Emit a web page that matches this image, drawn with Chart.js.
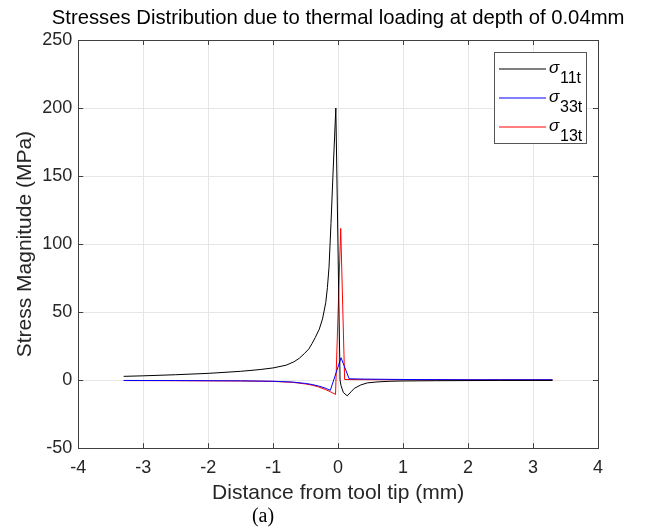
<!DOCTYPE html>
<html>
<head>
<meta charset="utf-8">
<script src="https://cdn.jsdelivr.net/npm/chart.js@4"></script>
<style>
  html, body { margin: 0; padding: 0; background: #fff; }
  #wrap { width: 650px; height: 530px; }
</style>
</head>
<body>
<div id="wrap"><canvas id="stressChart"></canvas></div>
<script>
// values
const s11X = [-3.3, -3, -2.5, -2, -1.5, -1.2, -1, -0.8, -0.68, -0.6, -0.52, -0.45, -0.4, -0.35, -0.29, -0.24, -0.19, -0.165, -0.14, -0.11, -0.08, -0.055, -0.035, 0.03, 0.045, 0.08, 0.14, 0.2, 0.25, 0.35, 0.45, 0.6, 0.8, 1, 1.5, 2, 2.5, 3, 3.3];
const s11Y = [2.8, 3.2, 4, 5, 6.5, 7.8, 9, 11, 13.5, 16, 19.5, 23, 27, 31.5, 37.5, 45, 57, 68, 83, 115, 150, 178, 200, 0, -4, -9, -11.5, -8.5, -6, -3.5, -2, -1.3, -0.8, -0.6, -0.4, -0.3, -0.2, -0.2, -0.2];

const s33X = [-3.3, -2.5, -2, -1.5, -1, -0.7, -0.5, -0.4, -0.3, -0.2, -0.12, 0.045, 0.17, 0.4, 1, 2, 3.3];
const s33Y = [-0.2, -0.3, -0.4, -0.5, -0.8, -1.4, -2.4, -3.2, -4.3, -5.8, -7.5, 16.5, 1, 0.8, 0.5, 0.3, 0.3];

const s13X = [-3.3, -2.5, -2, -1.5, -1, -0.7, -0.5, -0.4, -0.3, -0.2, -0.12, -0.04, 0.04, 0.1, 0.3, 1, 2, 3.3];
const s13Y = [-0.3, -0.4, -0.5, -0.6, -0.9, -1.6, -2.8, -3.7, -5, -6.8, -8.5, -10.5, 111.5, 0.5, 0.4, 0.3, 0.2, 0.2];

const xTicks = [-4, -3, -2, -1, 0, 1, 2, 3, 4];
const yTicks = [-50, 0, 50, 100, 150, 200, 250];

const series = [
    { name: 'σ|11t', xs: s11X, ys: s11Y, color: '#000000' },
    { name: 'σ|33t', xs: s33X, ys: s33Y, color: '#0000ff' },
    { name: 'σ|13t', xs: s13X, ys: s13Y, color: '#ff0000' },
];

const chartTitle = 'Stresses Distribution due to thermal loading at depth of 0.04mm';

const FONT = '"Liberation Sans", Arial, sans-serif';

// title over the axes, box with inward ticks, matlab-ish legend and the "(a)" caption
const matlabBits = {
    id: 'matlabBits',
    afterDraw(chart) {
        const ctx = chart.ctx;
        const a = chart.chartArea;
        const xs = chart.scales.x, ys = chart.scales.y;
        ctx.save();
        ctx.strokeStyle = '#404040';
        ctx.lineWidth = 1;
        ctx.beginPath();
        xTicks.forEach(function (t) {
            const p = Math.round(xs.getPixelForValue(t)) + 0.5;
            ctx.moveTo(p, a.bottom); ctx.lineTo(p, a.bottom - 5);
            ctx.moveTo(p, a.top); ctx.lineTo(p, a.top + 5);
        });
        yTicks.forEach(function (t) {
            const p = Math.round(ys.getPixelForValue(t)) + 0.5;
            ctx.moveTo(a.left, p); ctx.lineTo(a.left + 5, p);
            ctx.moveTo(a.right, p); ctx.lineTo(a.right - 5, p);
        });
        ctx.stroke();
        ctx.strokeRect(Math.round(a.left) + 0.5, Math.round(a.top) + 0.5,
            Math.round(a.right - a.left), Math.round(a.bottom - a.top));

        // title
        ctx.fillStyle = '#000000';
        ctx.font = '20.3px ' + FONT;
        ctx.textAlign = 'center';
        ctx.textBaseline = 'middle';
        ctx.fillText(chartTitle, (a.left + a.right) / 2, 18);

        // legend
        ctx.textAlign = 'left';
        const bx = a.right - 104, by = a.top + 12, bw = 92, bh = 91;
        ctx.fillStyle = '#ffffff';
        ctx.fillRect(bx, by, bw, bh);
        ctx.strokeStyle = '#555555';
        ctx.strokeRect(bx + 0.5, by + 0.5, bw, bh);
        series.forEach(function (s, i) {
            const yy = by + 17 + i * 29;
            ctx.lineWidth = 1.2;
            ctx.strokeStyle = s.color;
            ctx.beginPath();
            ctx.moveTo(bx + 5, yy);
            ctx.lineTo(bx + 52, yy);
            ctx.stroke();
            const parts = s.name.split('|');
            ctx.fillStyle = '#000000';
            ctx.textBaseline = 'alphabetic';
            ctx.font = 'italic 17px ' + FONT;
            ctx.fillText(parts[0], bx + 55, yy + 4);
            ctx.font = '16px ' + FONT;
            ctx.fillText(parts[1], bx + 66, yy + 14);
        });

        ctx.fillStyle = '#000000';
        ctx.font = '20px "Liberation Serif", "Times New Roman", serif';
        ctx.textAlign = 'center';
        ctx.textBaseline = 'middle';
        ctx.fillText('(a)', 263, 517);
        ctx.restore();
    }
};

new Chart(document.getElementById('stressChart'), {
    type: 'scatter',
    data: {
        datasets: series.map(function (s) {
            return {
                label: s.name,
                data: s.xs.map(function (x, i) { return { x: x, y: s.ys[i] }; }),
                borderColor: s.color,
                backgroundColor: s.color,
                borderWidth: 1,
                showLine: true,
                pointRadius: 0,
                tension: 0,
            };
        }),
    },
    options: {
        responsive: true,
        maintainAspectRatio: false,
        animation: false,
        layout: {
            padding: { left: 9, right: 52, top: 40, bottom: 24 },
        },
        plugins: {
            legend: { display: false },
            tooltip: { enabled: false },
            title: { display: false },
        },
        scales: {
            x: {
                type: 'linear',
                min: -4,
                max: 4,
                afterBuildTicks: function (axis) {
                    axis.ticks = xTicks.map(function (v) { return { value: v }; });
                },
                grid: { color: '#e6e6e6', drawTicks: false },
                border: { color: '#404040' },
                ticks: { color: '#262626', font: { family: FONT, size: 18 }, padding: 9 },
                title: {
                    display: true,
                    text: 'Distance from tool tip (mm)',
                    color: '#262626',
                    font: { family: FONT, size: 21 },
                    padding: { top: -7, bottom: 0 },
                },
            },
            y: {
                min: -50,
                max: 250,
                afterBuildTicks: function (axis) {
                    axis.ticks = yTicks.map(function (v) { return { value: v }; });
                },
                grid: { color: '#e6e6e6', drawTicks: false },
                border: { color: '#404040' },
                ticks: { color: '#262626', font: { family: FONT, size: 18 }, padding: 6 },
                title: {
                    display: true,
                    text: 'Stress Magnitude (MPa)',
                    color: '#262626',
                    font: { family: FONT, size: 21 },
                    padding: { top: 4, bottom: -2 },
                },
            },
        },
    },
    plugins: [matlabBits],
});
</script>
</body>
</html>
